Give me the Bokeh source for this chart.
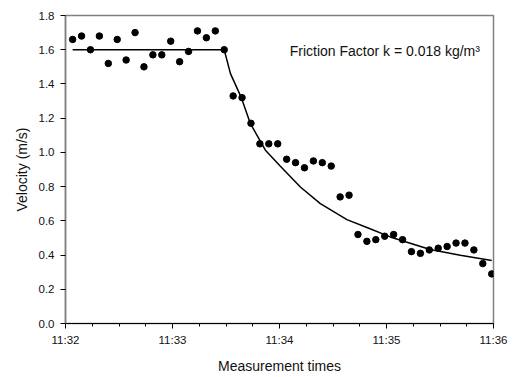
from bokeh.plotting import figure
from bokeh.models import FixedTicker, Label, PrintfTickFormatter
from bokeh.embed import file_html
from bokeh.resources import INLINE

# ---- data ----
meas_times = [
    "11:32:04", "11:32:09", "11:32:14", "11:32:19", "11:32:24", "11:32:29",
    "11:32:34", "11:32:39", "11:32:44", "11:32:49", "11:32:54", "11:32:59",
    "11:33:04", "11:33:09", "11:33:14", "11:33:19", "11:33:24", "11:33:29",
    "11:33:34", "11:33:39", "11:33:44", "11:33:49", "11:33:54", "11:33:59",
    "11:34:04", "11:34:09", "11:34:14", "11:34:19", "11:34:24", "11:34:29",
    "11:34:34", "11:34:39", "11:34:44", "11:34:49", "11:34:54", "11:34:59",
    "11:35:04", "11:35:09", "11:35:14", "11:35:19", "11:35:24", "11:35:29",
    "11:35:34", "11:35:39", "11:35:44", "11:35:49", "11:35:54", "11:35:59",
]
velocity = [
    1.66, 1.68, 1.60, 1.68, 1.52, 1.66, 1.54, 1.70, 1.50, 1.57, 1.57, 1.65,
    1.53, 1.59, 1.71, 1.67, 1.71, 1.60, 1.33, 1.32, 1.17, 1.05, 1.05, 1.05,
    0.96, 0.94, 0.91, 0.95, 0.94, 0.92, 0.74, 0.75, 0.52, 0.48, 0.49, 0.51,
    0.52, 0.49, 0.42, 0.41, 0.43, 0.44, 0.45, 0.47, 0.47, 0.43, 0.35, 0.29,
]
fit_times = [
    "11:32:04", "11:33:29", "11:33:32.5", "11:33:38.6", "11:33:43.7",
    "11:33:52.1", "11:34:00.5", "11:34:11.7", "11:34:22.9", "11:34:37.8",
    "11:34:49.0", "11:35:02.1", "11:35:24.5", "11:35:41.4", "11:35:59",
]
fit_velocity = [
    1.60, 1.60, 1.46, 1.32, 1.168,
    1.013, 0.919, 0.798, 0.701, 0.607,
    0.561, 0.506, 0.432, 0.399, 0.368,
]
x_tick_labels = ["11:32", "11:33", "11:34", "11:35", "11:36"]
y_ticks = [0.0, 0.2, 0.4, 0.6, 0.8, 1.0, 1.2, 1.4, 1.6, 1.8]
annotation_text = "Friction Factor k = 0.018 kg/m\u00b3"

ORIGIN = 11 * 3600 + 32 * 60


def to_sec(s):
    parts = s.split(":")
    h, m = int(parts[0]), int(parts[1])
    sec = float(parts[2]) if len(parts) > 2 else 0.0
    return h * 3600 + m * 60 + sec - ORIGIN


xs = [to_sec(t) for t in meas_times]
fxs = [to_sec(t) for t in fit_times]
major_ticks = [to_sec(t) for t in x_tick_labels]
minor_ticks = []
for a, b in zip(major_ticks[:-1], major_ticks[1:]):
    step = (b - a) / 4
    minor_ticks += [a + step, a + 2 * step, a + 3 * step]

FONT = "Liberation Sans"
TXT = "#111111"

p = figure(width=516, height=377, output_backend="svg", toolbar_location=None,
           x_range=(major_ticks[0], major_ticks[-1]), y_range=(y_ticks[0], y_ticks[-1]),
           min_border_left=65, min_border_right=23, min_border_top=15, min_border_bottom=54)
p.grid.visible = False
p.outline_line_color = "#808080"
p.outline_line_width = 1.5
p.background_fill_color = "white"
p.border_fill_color = "white"

p.line(fxs, fit_velocity, line_color="black", line_width=1.5)
p.scatter(xs, velocity, size=6.5, fill_color="black", line_color="black")

# x axis
xa = p.xaxis[0]
xa.ticker = FixedTicker(ticks=major_ticks, minor_ticks=minor_ticks)
xa.major_label_overrides = {t: l for t, l in zip(major_ticks, x_tick_labels)}
xa.axis_label = "Measurement times"
xa.axis_line_color = "black"
xa.major_tick_in = 0
xa.major_tick_out = 5
xa.minor_tick_in = 0
xa.minor_tick_out = 3
xa.major_tick_line_color = "black"
xa.minor_tick_line_color = "black"
xa.major_label_standoff = 5
xa.axis_label_standoff = 9
xa.major_label_text_font = FONT
xa.major_label_text_font_size = "11.5px"
xa.major_label_text_color = TXT
xa.axis_label_text_font = FONT
xa.axis_label_text_font_size = "14px"
xa.axis_label_text_font_style = "normal"
xa.axis_label_text_color = TXT

# y axis
ya = p.yaxis[0]
ya.ticker = FixedTicker(ticks=y_ticks)
ya.formatter = PrintfTickFormatter(format="%.1f")
ya.axis_label = "Velocity (m/s)"
ya.axis_line_color = "#808080"
ya.axis_line_width = 1.5
ya.major_tick_in = 0
ya.major_tick_out = 5
ya.major_tick_line_color = "black"
ya.minor_tick_line_color = None
ya.major_label_standoff = 6
ya.axis_label_standoff = 6
ya.major_label_text_font = FONT
ya.major_label_text_font_size = "11.5px"
ya.major_label_text_color = TXT
ya.axis_label_text_font = FONT
ya.axis_label_text_font_size = "14px"
ya.axis_label_text_font_style = "normal"
ya.axis_label_text_color = TXT

ann = Label(x=125.7, y=1.595, text=annotation_text, text_font=FONT,
            text_font_size="14px", text_color=TXT, text_baseline="alphabetic",
            text_align="left")
p.add_layout(ann)

open("out.html", "w").write(file_html(p, INLINE))
